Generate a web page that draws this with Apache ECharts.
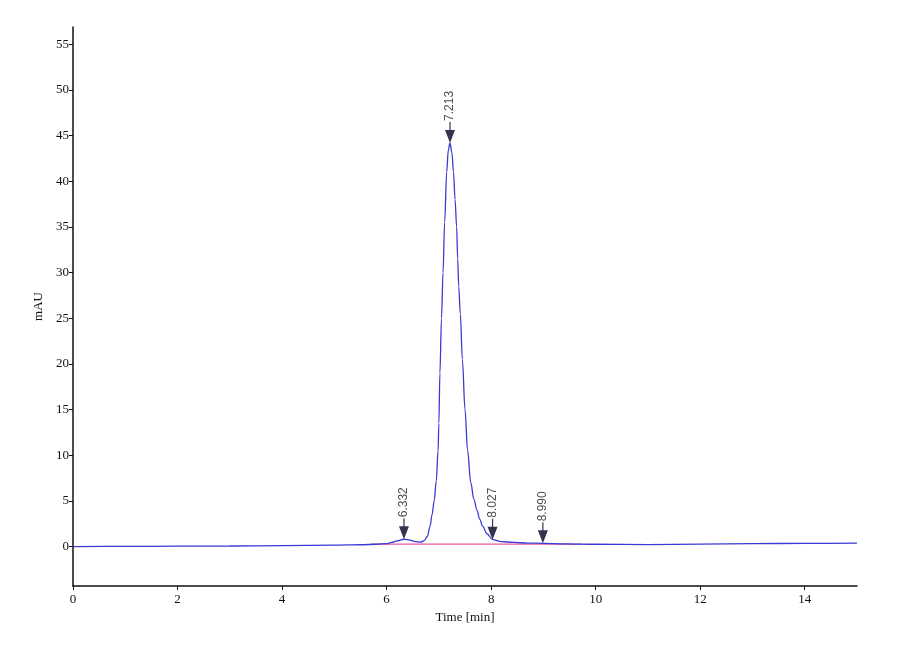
<!DOCTYPE html>
<html>
<head>
<meta charset="utf-8">
<script src="https://cdn.jsdelivr.net/npm/echarts@6/dist/echarts.min.js"></script>
<style>html,body{margin:0;padding:0;background:#fff}#c{width:900px;height:660px}</style>
</head>
<body>
<div id="c"></div>
<script>
// retention time [min]
var times = [0, 1, 2, 3, 4, 5, 5.5, 5.8, 6.0, 6.1, 6.2, 6.33, 6.45, 6.55, 6.65, 6.72, 6.78, 6.83, 6.87, 6.91, 6.95, 6.985, 7.0, 7.02, 7.05, 7.08, 7.11, 7.15, 7.18, 7.213, 7.25, 7.28, 7.31, 7.34, 7.36, 7.38, 7.41, 7.45, 7.5, 7.55, 7.61, 7.67, 7.73, 7.78, 7.84, 7.92, 8.03, 8.2, 8.43, 8.7, 8.99, 9.4, 10, 11, 12, 13, 14, 15];
// absorbance [mAU]
var signal = [0.0, 0.02, 0.04, 0.06, 0.1, 0.15, 0.2, 0.25, 0.32, 0.45, 0.62, 0.8, 0.7, 0.55, 0.48, 0.65, 1.1, 2.2, 3.5, 5.0, 7.2, 10.5, 13.5, 19.0, 25.0, 30.0, 35.5, 41.0, 43.4, 44.2, 43.1, 41.0, 38.0, 35.0, 31.5, 28.5, 25.5, 20.5, 15.0, 10.5, 7.0, 5.2, 4.0, 3.0, 2.2, 1.4, 0.75, 0.55, 0.45, 0.38, 0.35, 0.3, 0.25, 0.22, 0.27, 0.32, 0.35, 0.37];
// integration baseline
var baseTimes = [5.70, 9.72];
var baseValues = [0.27, 0.27];
// peak annotations
var peakTimes = [6.332, 7.213, 8.027, 8.990];
var peakHeights = [0.8, 44.2, 0.75, 0.35];
var peakLabels = ['6.332', '7.213', '8.027', '8.990'];
// axis ticks
var xTicks = [0, 2, 4, 6, 8, 10, 12, 14];
var yTicks = [0, 5, 10, 15, 20, 25, 30, 35, 40, 45, 50, 55];

var curve = times.map(function (t, i) { return [t, signal[i]]; });
var base = baseTimes.map(function (t, i) { return [t, baseValues[i]]; });
var peaks = peakTimes.map(function (t, i) { return { value: [t, peakHeights[i]], name: peakLabels[i] }; });

var serif = 'Liberation Serif';
var chart = echarts.init(document.getElementById('c'), null, { renderer: 'canvas' });
chart.setOption({
  backgroundColor: '#ffffff',
  animation: false,
  grid: { left: 73, right: 43, top: 27, bottom: 74 },
  xAxis: {
    type: 'value', min: 0, max: 15,
    name: 'Time [min]', nameLocation: 'middle', nameGap: 24,
    nameTextStyle: { fontFamily: serif, fontSize: 13, color: '#111' },
    axisLine: { onZero: false, lineStyle: { color: '#111', width: 1.5 } },
    axisTick: { show: true, length: 4, customValues: xTicks, lineStyle: { color: '#111' } },
    axisLabel: { customValues: xTicks, fontFamily: serif, fontSize: 13, color: '#111', margin: 7 },
    splitLine: { show: false }
  },
  yAxis: {
    type: 'value', min: -4.32, max: 56.9,
    name: 'mAU', nameLocation: 'middle', nameGap: 27, nameRotate: 90,
    nameTextStyle: { fontFamily: serif, fontSize: 13, color: '#111' },
    axisLine: { show: true, lineStyle: { color: '#111', width: 1.5 } },
    axisTick: { show: true, length: 4, customValues: yTicks, lineStyle: { color: '#111' } },
    axisLabel: { customValues: yTicks, fontFamily: serif, fontSize: 13, color: '#111', margin: 4 },
    splitLine: { show: false }
  },
  series: [
    {
      type: 'line', data: base, symbol: 'none', z: 2,
      lineStyle: { color: '#e8589c', width: 1.3 }
    },
    {
      type: 'line', data: curve, symbol: 'none', z: 3,
      smooth: 0.35, smoothMonotone: 'x',
      lineStyle: { color: '#3a3ad4', width: 1.3 }
    },
    {
      type: 'scatter', data: peaks, z: 4,
      symbol: 'path://M4.4,0 L5.6,0 L5.6,8 L10,8 L5,21 L0,8 L4.4,8 Z',
      symbolSize: [10, 21], symbolOffset: [0, -10.5], symbolKeepAspect: false,
      itemStyle: { color: '#000022' },
      label: {
        show: true, position: 'top', distance: 1, rotate: 90,
        align: 'left', verticalAlign: 'middle',
        formatter: function (p) { return p.name; },
        fontFamily: 'Liberation Sans', fontSize: 12, color: '#222'
      }
    }
  ]
});
</script>
</body>
</html>
